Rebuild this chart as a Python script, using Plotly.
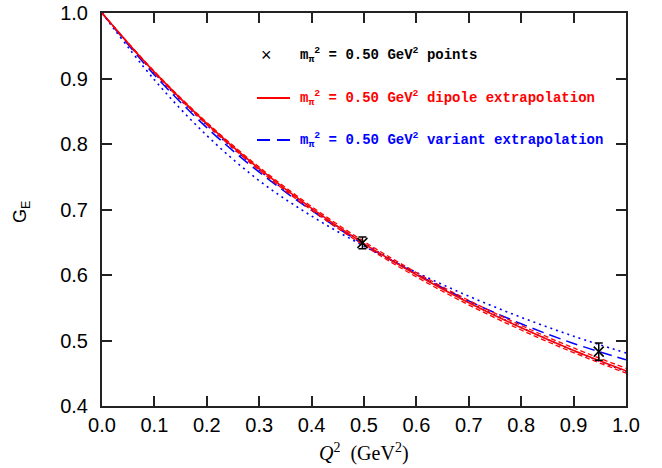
import plotly.graph_objects as go

# ---- data ----
q2 = [0.0, 0.1, 0.2, 0.3, 0.4, 0.5, 0.6, 0.7, 0.8, 0.9, 1.0]

dipole_central = [1.0, 0.9097, 0.8311, 0.7623, 0.7017, 0.6480, 0.6003, 0.5576, 0.5194, 0.4849, 0.4538]
dipole_upper   = [1.0, 0.9108, 0.8330, 0.7647, 0.7045, 0.6512, 0.6037, 0.5612, 0.5230, 0.4886, 0.4575]
dipole_lower   = [1.0, 0.9087, 0.8294, 0.7600, 0.6990, 0.6451, 0.5971, 0.5543, 0.5160, 0.4815, 0.4503]

variant_central = [1.0, 0.9055, 0.8250, 0.7570, 0.6985, 0.6465, 0.6015, 0.5605, 0.5255, 0.4955, 0.4705]
variant_band_a  = [1.0, 0.8980, 0.8130, 0.7440, 0.6900, 0.6440, 0.6040, 0.5676, 0.5354, 0.5065, 0.4810]
variant_band_b  = [1.0, 0.9080, 0.8290, 0.7600, 0.7005, 0.6485, 0.6015, 0.5585, 0.5200, 0.4845, 0.4525]

points_q2 = [0.497, 0.948]
points_ge = [0.649, 0.483]
points_err = [0.009, 0.013]

x_ticks = [0.0, 0.1, 0.2, 0.3, 0.4, 0.5, 0.6, 0.7, 0.8, 0.9, 1.0]
y_ticks = [0.4, 0.5, 0.6, 0.7, 0.8, 0.9, 1.0]

legend_texts = [
    "m<sub>π</sub><sup>2</sup> = 0.50 GeV<sup>2</sup> points",
    "m<sub>π</sub><sup>2</sup> = 0.50 GeV<sup>2</sup> dipole extrapolation",
    "m<sub>π</sub><sup>2</sup> = 0.50 GeV<sup>2</sup> variant extrapolation",
]
legend_colors = ["black", "#ff0000", "#0000ff"]

RED = "#ff0000"
BLUE = "#0000ff"

fig = go.Figure()

def line(y, color, dash, width):
    fig.add_trace(go.Scatter(x=q2, y=y, mode="lines", line=dict(color=color, dash=dash, width=width, shape="spline"),
                             showlegend=False, hoverinfo="skip"))

line(variant_band_a, BLUE, "2px,4px", 1.6)
line(variant_band_b, BLUE, "2px,4px", 1.6)
line(variant_central, BLUE, "12px,6px", 1.5)
line(dipole_upper, RED, "5px,3px", 1.3)
line(dipole_lower, RED, "5px,3px", 1.3)
line(dipole_central, RED, "solid", 1.6)

fig.add_trace(go.Scatter(
    x=points_q2, y=points_ge, mode="markers",
    marker=dict(symbol="x-thin", size=10, color="black", line=dict(width=1.5, color="black")),
    error_y=dict(type="data", array=points_err, color="black", thickness=1.5, width=4),
    showlegend=False, hoverinfo="skip"))

# ---- legend (drawn manually) ----
PW, PH = 524.0, 393.0
def px_x(px):
    return (px - 102) / PW
def px_y(py):
    return (406 - py) / PH

rows_y = [55, 98, 140]
annotations = []
for t, c, ry in zip(legend_texts, legend_colors, rows_y):
    annotations.append(dict(xref="paper", yref="paper", x=px_x(298), y=px_y(ry), text="<b>" + t + "</b>",
                            showarrow=False, xanchor="left", yanchor="middle",
                            font=dict(family="Liberation Mono", size=14, color=c)))
annotations.append(dict(xref="paper", yref="paper", x=px_x(266), y=px_y(rows_y[0]), text="×",
                        showarrow=False, xanchor="center", yanchor="middle",
                        font=dict(family="Liberation Sans", size=18, color="black")))

shapes = [
    dict(type="line", xref="paper", yref="paper", x0=px_x(257), x1=px_x(290), y0=px_y(rows_y[1]), y1=px_y(rows_y[1]),
         line=dict(color=RED, width=2)),
    dict(type="line", xref="paper", yref="paper", x0=px_x(257), x1=px_x(270), y0=px_y(rows_y[2]), y1=px_y(rows_y[2]),
         line=dict(color=BLUE, width=2)),
    dict(type="line", xref="paper", yref="paper", x0=px_x(277), x1=px_x(290), y0=px_y(rows_y[2]), y1=px_y(rows_y[2]),
         line=dict(color=BLUE, width=2)),
]

# axis titles
annotations.append(dict(xref="paper", yref="paper", x=0.5, y=px_y(452), showarrow=False,
                        text="<i>Q</i><sup>2</sup>  (GeV<sup>2</sup>)", xanchor="center", yanchor="middle",
                        font=dict(family="Liberation Serif", size=20, color="black")))
annotations.append(dict(xref="paper", yref="paper", x=px_x(22), y=px_y(212), showarrow=False,
                        text="G<sub>E</sub>", textangle=-90, xanchor="center", yanchor="middle",
                        font=dict(family="Liberation Sans", size=18, color="black")))

axis_common = dict(showline=True, linewidth=2, linecolor="#222", mirror="ticks", ticks="inside",
                   ticklen=10, tickwidth=1.5, tickcolor="#222", showgrid=False, zeroline=False,
                   automargin=False, ticklabeloverflow="allow",
                   tickfont=dict(family="Liberation Sans", size=20, color="black"), tickformat=".1f")

fig.update_layout(
    width=662, height=468,
    margin=dict(l=102, r=36, t=13, b=62, autoexpand=False),
    paper_bgcolor="white", plot_bgcolor="white",
    xaxis=dict(range=[0, 1], tickvals=x_ticks, **axis_common),
    yaxis=dict(range=[0.4, 1.0], tickvals=y_ticks, ticklabelstandoff=8, **axis_common),
    annotations=annotations, shapes=shapes, showlegend=False,
)

# remove the default page margin so the figure sits at the window's top-left corner
fig.write_html("out.html", config={"displayModeBar": False},
               post_script="document.body.style.margin='0px';")
